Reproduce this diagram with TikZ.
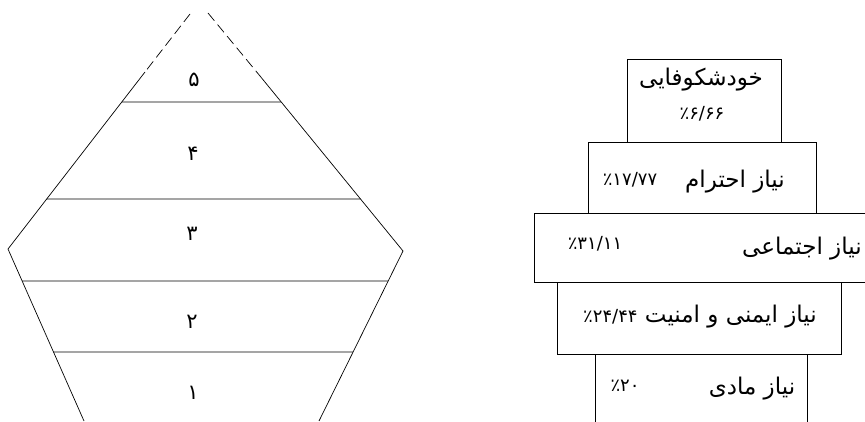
\documentclass[tikz,border=0pt]{standalone}
\usepackage{fontspec}
\newfontfamily\arabicfont[Script=Arabic]{DejaVu Sans}
\TeXXeTstate=1
\usetikzlibrary{calc,positioning}
\tikzset{
	every picture/.style={line width=0.7pt},
}

\begin{document}
\begin{tikzpicture}[
	x=1pt, y=-1pt,
	level/.style={font=\arabicfont\fontsize{21}{23}\selectfont, inner sep=0pt},
	needbox/.style={draw, inner sep=0pt, minimum width=#1},
	needtext/.style={font=\arabicfont\fontsize{23}{25}\selectfont, inner sep=0pt},
	needpct/.style={font=\arabicfont\fontsize{18}{20}\selectfont, inner sep=0pt},
	]
	\useasboundingbox (0,0) rectangle (865,422);

	%pyramid corners
	\coordinate (tl) at (190,14);
	\coordinate (tr) at (208,13);
	\coordinate (dl) at (145,72);
	\coordinate (dr) at (260,76);
	\coordinate (w) at (8,249);
	\coordinate (e) at (403,251);
	\coordinate (bl) at (84,421);
	\coordinate (br) at (319,421);

	%sides
	\draw[dash pattern=on 10pt off 5pt] (tl) -- (dl);
	\draw[dash pattern=on 10pt off 5pt] (tr) -- (dr);
	\draw (dl) -- (w) -- (bl);
	\draw (dr) -- (e) -- (br);

	%levels
	\draw (intersection of w--tl and 0,102--400,102) -- (intersection of e--tr and 0,102--400,102);
	\draw (intersection of w--tl and 0,199--400,199) -- (intersection of e--tr and 0,199--400,199);
	\draw (intersection of w--bl and 0,281--400,281) -- (intersection of e--br and 0,281--400,281);
	\draw (intersection of w--bl and 0,352--400,352) -- (intersection of e--br and 0,352--400,352);

	\node[level] (l5) at (194,80) {۵};
	\node[level] (l4) at (193,154) {۴};
	\node[level] (l3) at (192,234) {۳};
	\node[level] (l2) at (192,322) {۲};
	\node[level] (l1) at (193,393) {۱};

	%needs
	\node[needbox=154pt, minimum height=83pt] (self) at (704,100.5) {};
	\node[needbox=228pt, minimum height=71pt] (esteem) at (702,177.5) {};
	\draw (865,213) -- (534,213) -- (534,282) -- (865,282);
	\node[needbox=284pt, minimum height=72pt] (safety) at (699,318) {};
	\draw (595,422) -- (595,354) -- (807,354) -- (807,422);

	\node[needtext] (selfw) at (701,80) {خودشکوفایی};
	\node[needpct] (selfn) at (702,114) {٪۶/۶۶};
	\node[needtext] (esteemw) at (735,182) {\beginR نیاز احترام\endR};
	\node[needpct] (esteemn) at (630,180) {٪۱۷/۷۷};
	\node[needtext, anchor=east] (socialw) at (862,249) {\beginR نیاز اجتماعی\endR};
	\node[needpct] (socialn) at (595,244) {٪۳۱/۱۱};
	\node[needtext] (safetyw) at (700,317) {{\fontsize{18}{20}\selectfont ٪۲۴/۴۴} \beginR نیاز ایمنی و امنیت\endR};
	\node[needtext] (physw) at (752,389) {\beginR نیاز مادی\endR};
	\node[needpct] (physn) at (625,386) {٪۲۰};
\end{tikzpicture}
\end{document}
